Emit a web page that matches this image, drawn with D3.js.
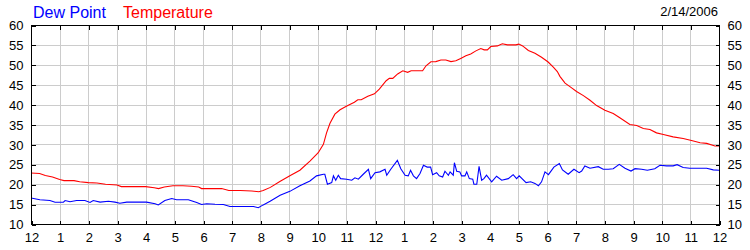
<!DOCTYPE html>
<html><head><meta charset="utf-8">
<script src="https://cdn.jsdelivr.net/npm/d3@7/dist/d3.min.js"></script>
<style>
html,body{margin:0;padding:0;background:#fff;}
svg{display:block;font-family:"Liberation Sans",Arial,sans-serif;}
</style></head>
<body><svg id="c" width="750" height="250"></svg>
<script>
const title = "2/14/2006";
const seriesNames = ["Dew Point", "Temperature"];
const seriesColors = ["#0000ff", "#ff0000"];
const xTickLabels = ["12","1","2","3","4","5","6","7","8","9","10","11","12","1","2","3","4","5","6","7","8","9","10","11","12"];
const yTicks = [10,15,20,25,30,35,40,45,50,55,60];

const tempHours = [0,0.3,0.5,0.75,1.0,1.15,1.5,1.7,2.0,2.3,2.6,3.0,3.15,3.5,4.0,4.3,4.45,4.65,4.95,5.3,5.6,5.85,5.95,6.3,6.65,6.9,7.3,7.7,7.95,8.1,8.35,8.68,9.03,9.38,9.73,10.02,10.2,10.31,10.43,10.6,10.78,11.0,11.28,11.4,11.52,11.75,11.98,12.15,12.39,12.5,12.62,12.79,12.97,13.14,13.26,13.66,13.78,13.95,14.12,14.3,14.47,14.65,14.82,14.99,15.17,15.34,15.52,15.69,15.81,15.92,16.04,16.27,16.44,16.62,16.91,17.02,17.15,17.35,17.58,17.81,18.04,18.22,18.36,18.45,18.63,18.86,19.03,19.27,19.5,19.73,20.02,20.31,20.54,20.89,21.13,21.36,21.59,21.82,22.06,22.4,22.75,23.04,23.34,23.57,23.86,24];
const tempValues = [22.8,22.7,22.2,21.8,21.2,20.9,20.9,20.6,20.4,20.3,20.0,19.8,19.4,19.4,19.4,19.1,18.9,19.3,19.6,19.6,19.5,19.3,18.9,18.9,18.9,18.4,18.4,18.3,18.1,18.4,19.2,20.7,22.1,23.5,25.8,27.9,30.0,32.9,35.3,37.6,38.7,39.6,40.6,41.2,41.2,42.1,42.7,43.9,46.0,46.6,46.6,47.7,48.5,48.1,48.5,48.5,49.75,50.75,50.8,51.2,51.2,50.8,51.0,51.6,52.25,52.7,53.5,54.1,53.75,53.75,54.6,54.75,55.3,55.0,55.0,55.2,54.75,53.6,52.9,51.9,50.7,49.4,48.3,47.1,45.4,44.2,43.3,42.25,41.1,39.75,38.6,37.75,36.7,35.0,34.75,34.0,33.75,32.9,32.5,31.9,31.5,31.0,30.4,30.25,29.6,29.6];

const dewHours = [0,0.31,0.66,0.84,1.13,1.19,1.36,1.59,1.88,2.06,2.17,2.41,2.7,2.93,3.1,3.34,4.03,4.33,4.44,4.67,4.91,5.08,5.49,5.78,5.95,6.13,6.42,6.71,6.94,7.76,7.93,8.1,8.34,8.69,9.03,9.38,9.73,9.96,10.2,10.25,10.34,10.49,10.55,10.63,10.72,10.8,11.01,11.19,11.3,11.42,11.59,11.77,11.85,12.0,12.17,12.35,12.41,12.55,12.78,12.9,13.05,13.16,13.24,13.34,13.45,13.57,13.69,13.82,13.94,14.01,14.15,14.24,14.36,14.44,14.56,14.62,14.73,14.77,14.85,14.96,15.02,15.14,15.2,15.29,15.41,15.45,15.55,15.63,15.72,15.8,15.89,16.07,16.24,16.42,16.65,16.82,16.94,17.03,17.27,17.43,17.58,17.7,17.81,17.93,18.05,18.24,18.43,18.54,18.74,18.94,19.12,19.21,19.32,19.5,19.79,19.96,20.14,20.31,20.52,20.72,20.93,21.07,21.3,21.5,21.76,21.94,22.17,22.4,22.54,22.75,22.98,23.57,23.8,24];
const dewValues = [16.55,16.1,15.9,15.45,15.5,15.9,15.6,15.9,15.9,15.4,15.9,15.5,15.7,15.5,15.2,15.5,15.5,15.1,14.8,15.9,16.4,16.1,16.1,15.4,14.9,15.1,14.95,14.9,14.4,14.4,14.1,14.8,15.7,17.2,18.2,19.6,20.8,22.1,22.5,22.5,20.0,20.4,22.1,21.0,22.25,21.4,21.25,21.0,21.6,21.25,22.5,23.75,21.4,22.9,23.1,23.75,22.25,23.75,26.0,23.9,22.25,22.1,23.5,22.1,21.4,22.7,24.75,24.3,24.3,22.4,22.9,22.1,21.8,23.25,22.25,23.1,22.25,25.4,23.25,23.1,22.1,22.1,23.1,21.4,21.25,20.0,20.0,24.5,21.0,21.4,22.25,20.6,22.0,21.0,21.4,22.4,21.4,22.1,20.4,20.6,20.2,19.6,20.6,23.1,22.4,24.3,25.2,23.6,22.5,23.75,22.9,23.3,24.6,24.0,24.4,23.75,23.75,23.9,25.0,24.0,23.3,23.9,23.75,23.5,23.9,24.75,24.6,24.6,24.9,24.2,24.0,24.0,23.6,23.5];

const L = 31, R = 719, T = 25, B = 224;
const svg = d3.select("#c");
const x = d3.scaleLinear().domain([0, 24]).range([L, R]);
const y = d3.scaleLinear().domain([10, 60]).range([B, T]);
const px = v => Math.round(v) + 0.5;

// grid
const g = svg.append("g").attr("shape-rendering", "crispEdges");
g.selectAll(".vg").data(d3.range(1, 24)).join("line")
  .attr("x1", d => px(x(d))).attr("x2", d => px(x(d)))
  .attr("y1", T).attr("y2", B).attr("stroke", "#cccccc");
g.selectAll(".hg").data(yTicks.slice(1, -1)).join("line")
  .attr("y1", d => px(y(d))).attr("y2", d => px(y(d)))
  .attr("x1", L).attr("x2", R).attr("stroke", "#cccccc");

// series
const line = d3.line().x(d => x(d[0])).y(d => y(d[1]));
const dewData = dewHours.map((h, i) => [h, dewValues[i]]);
const tempData = tempHours.map((h, i) => [h, tempValues[i]]);
svg.append("path").datum(tempData).attr("d", line).attr("fill", "none")
  .attr("stroke", seriesColors[1]).attr("stroke-width", 1.1);
svg.append("path").datum(dewData).attr("d", line).attr("fill", "none")
  .attr("stroke", seriesColors[0]).attr("stroke-width", 1.1);

// frame
const f = svg.append("g").attr("shape-rendering", "crispEdges");
f.append("rect").attr("x", px(L)).attr("y", px(T)).attr("width", Math.round(R) - Math.round(L))
  .attr("height", Math.round(B) - Math.round(T)).attr("fill", "none").attr("stroke", "#000");

// axes with inner ticks
const xAxisB = d3.axisBottom(x).tickValues(d3.range(0, 25)).tickSizeInner(-4).tickSizeOuter(0)
  .tickFormat((d, i) => xTickLabels[i]).tickPadding(10);
const ab = svg.append("g").attr("transform", `translate(0.5,${px(B)})`).call(xAxisB);
const xAxisT = d3.axisTop(x).tickValues(d3.range(1, 24)).tickSizeInner(-4).tickSizeOuter(0).tickFormat("");
const at = svg.append("g").attr("transform", `translate(0.5,${px(T)})`).call(xAxisT);
const yAxisL = d3.axisLeft(y).tickValues(yTicks).tickSizeInner(-4).tickSizeOuter(0).tickPadding(8);
const al = svg.append("g").attr("transform", `translate(${px(L)},0.5)`).call(yAxisL);
const yAxisR = d3.axisRight(y).tickValues(yTicks).tickSizeInner(-4).tickSizeOuter(0).tickPadding(8);
const ar = svg.append("g").attr("transform", `translate(${px(R)},0.5)`).call(yAxisR);
[ab, at, al, ar].forEach(a => {
  a.select(".domain").remove();
  a.selectAll("line").attr("stroke", "#000").attr("shape-rendering", "crispEdges");
  a.selectAll("text").attr("font-family", "Liberation Sans, Arial, sans-serif")
    .attr("font-size", 13).attr("fill", "#000");
});
ab.selectAll("text").attr("dy", "0.71em").attr("y", 8);

// legend / title
const leg = svg.append("text").attr("x", 33).attr("y", 17.5)
  .attr("font-size", 16).attr("font-family", "Liberation Sans, Arial, sans-serif");
leg.append("tspan").attr("fill", seriesColors[0]).text(seriesNames[0]);
leg.append("tspan").attr("fill", seriesColors[1]).attr("x", 123).text(seriesNames[1]);
svg.append("text").attr("x", 718).attr("y", 16).attr("text-anchor", "end")
  .attr("font-size", 13).attr("fill", "#000").text(title);
</script></body></html>
